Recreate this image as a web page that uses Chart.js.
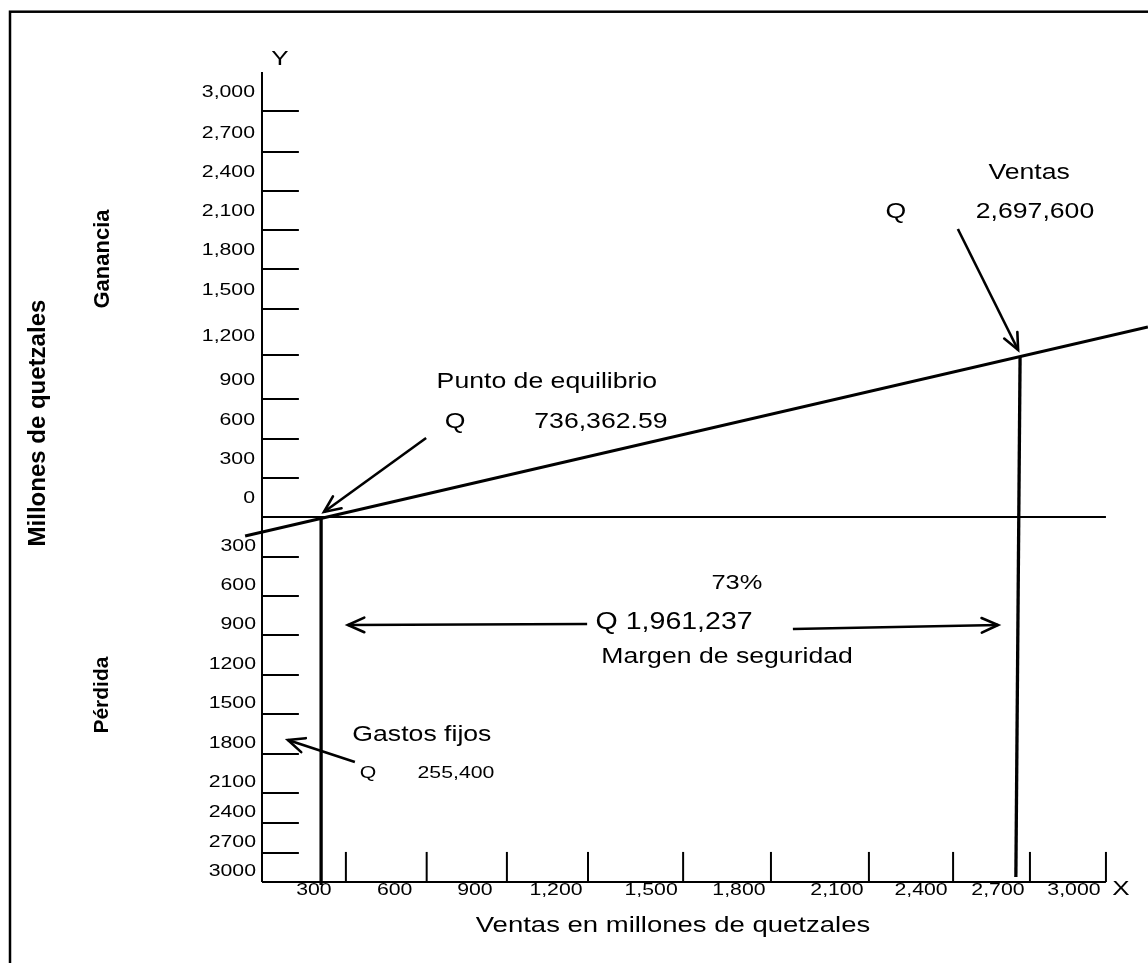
<!DOCTYPE html>
<html>
<head>
<meta charset="utf-8">
<script src="https://cdn.jsdelivr.net/npm/chart.js@4.4.1/dist/chart.umd.min.js"></script>
<style>
  body { margin: 0; background: #fff; }
  #wrap { width: 1148px; height: 963px; }
</style>
</head>
<body>
<div id="wrap"><canvas id="chart"></canvas></div>
<script>
// values (millones de quetzales, in the sketch's own units)
const xTickLabels = ['300', '600', '900', '1,200', '1,500', '1,800', '2,100', '2,400', '2,700', '3,000'];
const xTickAt = [298, 585, 870, 1158, 1496, 1808, 2156, 2455, 2728, 2998];

const yProfitLabels = ['3,000', '2,700', '2,400', '2,100', '1,800', '1,500', '1,200', '900', '600', '300', '0'];
const yProfitAt = [3007, 2704, 2415, 2126, 1837, 1541, 1200, 874, 578, 289, 0];
const yLossLabels = ['300', '600', '900', '1200', '1500', '1800', '2100', '2400', '2700', '3000'];
const yLossAt = [-296, -585, -874, -1170, -1459, -1756, -2044, -2267, -2489, -2704];

// axes extents
const xAxisEnd = 2998;
const yAxisTop = 3296;
const yAxisBottom = -2704;

// result line (ventas - costos) and the two verticals
const profitX = [-60, 3147];
const profitY = [-141, 1407];
const breakEvenX = [210, 210];
const breakEvenY = [0, -2726];
const salesX = [2693, 2678];
const salesY = [1193, -2667];

// arrows: tail -> tip
const arrowFromX = [583, 2472, 1155, 1886, 330];
const arrowFromY = [585, 2133, -793, -830, -1815];
const arrowToX = [220, 2686, 305, 2615, 92];
const arrowToY = [37, 1237, -800, -800, -1652];

// text notes, anchored in data units
const notes = [
  { t: 'Y', x: 64, y: 3390, size: 20, sx: 1.3 },
  { t: 'X', x: 3051, y: -2756, size: 20, sx: 1.3 },
  { t: 'Ventas en millones de quetzales', x: 1460, y: -3030, size: 22, sx: 1.25 },
  { t: 'Millones de quetzales', x: -796, y: 696, size: 24, bold: true, rot: true },
  { t: 'Ganancia', x: -565, y: 1911, size: 22, bold: true, rot: true },
  { t: 'Pérdida', x: -568, y: -1319, size: 21, bold: true, rot: true },
  { t: 'Punto de equilibrio', x: 1012, y: 1000, size: 22, sx: 1.21 },
  { t: 'Q', x: 686, y: 704, size: 22, sx: 1.21 },
  { t: '736,362.59', x: 1204, y: 704, size: 22, sx: 1.21 },
  { t: 'Ventas', x: 2725, y: 2548, size: 22, sx: 1.21 },
  { t: 'Q', x: 2252, y: 2259, size: 22, sx: 1.21 },
  { t: '2,697,600', x: 2746, y: 2259, size: 22, sx: 1.21 },
  { t: '73%', x: 1687, y: -489, size: 21, sx: 1.21 },
  { t: 'Q 1,961,237', x: 1464, y: -785, size: 23, sx: 1.24 },
  { t: 'Margen de seguridad', x: 1652, y: -1037, size: 22, sx: 1.21 },
  { t: 'Gastos fijos', x: 568, y: -1615, size: 22, sx: 1.21 },
  { t: 'Q', x: 377, y: -1896, size: 17, sx: 1.25 },
  { t: '255,400', x: 689, y: -1896, size: 17, sx: 1.25 }
];

const FONT = '"Liberation Sans", Arial, sans-serif';

// one dataset per straight segment
const datasets = [];
function seg(xs, ys, w) {
  datasets.push({
    data: [{ x: xs[0], y: ys[0] }, { x: xs[1], y: ys[1] }],
    borderColor: '#000',
    borderWidth: w,
    showLine: true,
    pointRadius: 0,
    fill: false
  });
}

seg([0, 0], [yAxisBottom, yAxisTop], 2);
seg([0, xAxisEnd], [yAxisBottom, yAxisBottom], 2);
seg([0, xAxisEnd], [0, 0], 2);
yProfitAt.slice(0, -1).forEach((v) => seg([0, 131], [v, v], 2));
yLossAt.forEach((v) => seg([0, 131], [v, v], 2));
xTickAt.forEach((v) => seg([v, v], [yAxisBottom, -2481], 2));
seg(profitX, profitY, 3);
seg(breakEvenX, breakEvenY, 3.3);
seg(salesX, salesY, 3.3);
arrowFromX.forEach((_, i) => seg([arrowFromX[i], arrowToX[i]], [arrowFromY[i], arrowToY[i]], 2.6));

function drawText(ctx, str, x, y, o) {
  ctx.save();
  ctx.translate(x, y);
  if (o.rot) ctx.rotate(-Math.PI / 2);
  ctx.scale(o.sx || 1, 1);
  ctx.font = (o.bold ? 'bold ' : '') + o.size + 'px ' + FONT;
  ctx.textAlign = o.align || 'center';
  ctx.textBaseline = 'middle';
  ctx.fillStyle = '#000';
  ctx.fillText(str, 0, 0);
  ctx.restore();
}

const sketchPlugin = {
  id: 'sketch',
  beforeDraw(chart) {
    const ctx = chart.ctx;
    ctx.save();
    ctx.fillStyle = '#fff';
    ctx.fillRect(0, 0, chart.width, chart.height);
    // page frame (only top and left edges are visible)
    ctx.strokeStyle = '#000';
    ctx.lineWidth = 2.5;
    ctx.strokeRect(10, 11.7, chart.width + 20, chart.height + 20);
    ctx.restore();
  },
  afterDatasetsDraw(chart) {
    const ctx = chart.ctx;
    const sx = chart.scales.x;
    const sy = chart.scales.y;
    const X = (v) => sx.getPixelForValue(v);
    const Y = (v) => sy.getPixelForValue(v);

    // arrow heads
    ctx.save();
    ctx.strokeStyle = '#000';
    ctx.lineWidth = 2.6;
    ctx.lineCap = 'round';
    arrowToX.forEach((_, i) => {
      const tx = X(arrowToX[i]), ty = Y(arrowToY[i]);
      const fx = X(arrowFromX[i]), fy = Y(arrowFromY[i]);
      const a = Math.atan2(fy - ty, fx - tx);
      const len = 18, spread = 0.42;
      ctx.beginPath();
      ctx.moveTo(tx + len * Math.cos(a - spread), ty + len * Math.sin(a - spread));
      ctx.lineTo(tx, ty);
      ctx.lineTo(tx + len * Math.cos(a + spread), ty + len * Math.sin(a + spread));
      ctx.stroke();
    });
    ctx.restore();

    // axis labels
    const x0 = X(0);
    yProfitAt.forEach((v, i) => drawText(ctx, yProfitLabels[i], x0 - 7, Y(v) - 19, { size: 17, sx: 1.25, align: 'right' }));
    yLossAt.forEach((v, i) => drawText(ctx, yLossLabels[i], x0 - 6, Y(v) - 11, { size: 17, sx: 1.25, align: 'right' }));
    xTickAt.forEach((v, i) => drawText(ctx, xTickLabels[i], X(v) - 32, Y(yAxisBottom) + 8, { size: 17, sx: 1.25 }));

    notes.forEach((n) => drawText(ctx, n.t, X(n.x), Y(n.y), n));
  }
};

new Chart(document.getElementById('chart'), {
  type: 'scatter',
  data: { datasets },
  options: {
    responsive: true,
    maintainAspectRatio: false,
    animation: false,
    layout: { padding: 0 },
    events: [],
    plugins: { legend: { display: false }, tooltip: { enabled: false } },
    scales: {
      x: { type: 'linear', display: false, min: -930.7, max: 3147.4 },
      y: { type: 'linear', display: false, min: -3303.7, max: 3829.6 }
    }
  },
  plugins: [sketchPlugin]
});
</script>
</body>
</html>
